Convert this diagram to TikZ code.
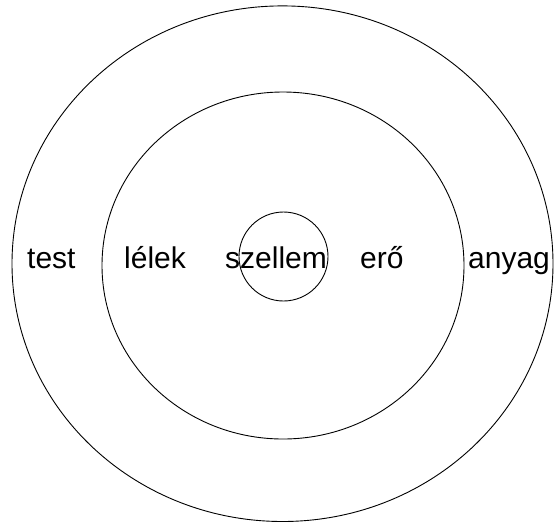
\documentclass[tikz,border=0pt]{standalone}
\usepackage{fontspec}
\setmainfont{Liberation Sans}
\begin{document}
\begin{tikzpicture}[x=1pt,y=-1pt,
  ring/.style={draw=black,line width=0.9pt},
  lbl/.style={anchor=base west,inner sep=0pt,font=\fontsize{30}{34}\selectfont}]
\useasboundingbox (0,0) rectangle (555,523);
\draw[ring] (282.5,263.7) ellipse [x radius=270.5,y radius=257.8];
\draw[ring] (283,265.5) ellipse [x radius=181,y radius=173.5];
\draw[ring] (283.5,256.5) circle [radius=44.5];
\node[lbl] (test) at (27,268) {test};
\node[lbl] (lelek) at (124,268) {lélek};
\node[lbl] (szellem) at (225,268) {szellem};
\node[lbl] (ero) at (360,268) {erő};
\node[lbl] (anyag) at (468,268) {anyag};
\end{tikzpicture}
\end{document}
